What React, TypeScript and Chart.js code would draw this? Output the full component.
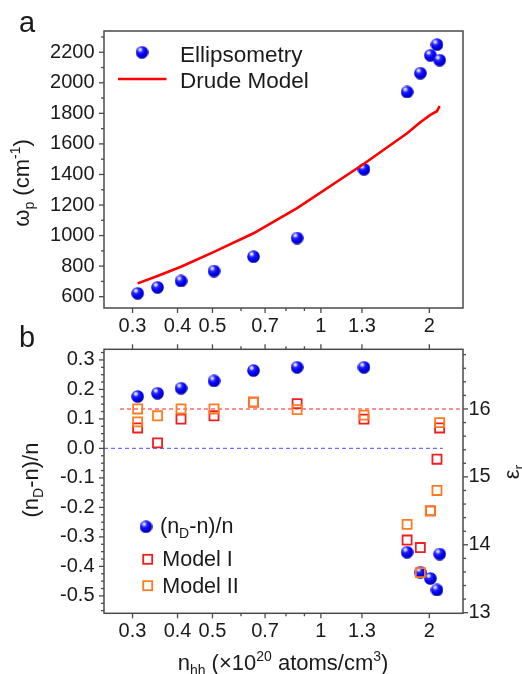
import React, { useEffect, useRef } from 'react';
import { Chart, registerables } from 'chart.js';

Chart.register(...registerables);

// ---------- data ----------
const nhh = [0.310, 0.352, 0.409, 0.505, 0.650, 0.859, 1.317, 1.735, 1.888, 2.013, 2.100, 2.136];
const omegaP = [622, 661, 703, 768, 862, 984, 1434, 1940, 2063, 2180, 2250, 2148];
const drudeModel = [687, 735, 796, 893, 1015, 1180, 1470, 1670, 1742, 1790, 1814, 1848];

const ndRel = [0.176, 0.187, 0.204, 0.229, 0.264, 0.275, 0.275, -0.352, -0.420, -0.441, -0.480, -0.358];

const model1X = [0.310, 0.352, 0.409, 0.505, 0.650, 0.859, 1.317, 1.735, 1.888, 2.013, 2.100, 2.136];
const model1 = [15.72, 15.50, 15.85, 15.90, 16.10, 16.08, 15.85, 14.07, 13.96, 14.50, 15.26, 15.72];

const model2X = [0.310, 0.310, 0.352, 0.409, 0.505, 0.650, 0.859, 1.317, 1.735, 1.888, 2.013, 2.100, 2.136];
const model2 = [16.00, 15.81, 15.90, 16.00, 16.00, 16.10, 15.99, 15.91, 14.30, 13.59, 14.50, 14.80, 15.80];

const zeroLineX = [0.25, 2.18];
const zeroLineY = [0, 0];
const epsLineX = [0.277, 2.43];
const epsLineY = [16, 16];

// ---------- axes / ticks ----------
const xMin = 0.25;
const xMax = 2.48;
const xLabelTicks = [0.3, 0.4, 0.5, 0.7, 1, 1.3, 2];
const xMinorTicks = [0.6, 0.8, 0.9];

const yTopMin = 526;
const yTopMax = 2339;
const yTopMajor = [600, 800, 1000, 1200, 1400, 1600, 1800, 2000, 2200];
const yTopMinor = [700, 900, 1100, 1300, 1500, 1700, 1900, 2100, 2300];

const yBotMin = -0.559;
const yBotMax = 0.336;
const yBotMajor = [-0.5, -0.4, -0.3, -0.2, -0.1, 0, 0.1, 0.2, 0.3];
const yBotMinor: number[] = [];
for (let i = -22; i <= 13; i++) {
  if (i % 4 !== 0) yBotMinor.push(i * 0.025);
}

const y2Min = 12.991;
const y2Max = 16.879;
const y2Major = [13, 14, 15, 16];
const y2Minor: number[] = [];
for (let i = 66; i <= 84; i++) {
  if (i % 5 !== 0) y2Minor.push(i * 0.2);
}

const FONT = '"Liberation Sans", Arial, sans-serif';
const AXIS = '#4a4a4a';
const TEXT = '#1a1a1a';
const BLUE_DASH = '#6f6fff';
const RED_DASH = '#ff6b6b';
const MODEL1 = '#f21d1d';
const MODEL2 = '#ff7b22';

type Side = 'left' | 'right' | 'top' | 'bottom';
interface TickSpec {
  id: string;
  side: Side;
  major: number[];
  minor: number[];
  label?: (v: number) => string;
  gap?: number;
}

function drawAxes(chart: any, specs: TickSpec[]) {
  const ctx: CanvasRenderingContext2D = chart.ctx;
  const a = chart.chartArea;
  ctx.save();
  ctx.strokeStyle = AXIS;
  ctx.lineWidth = 1.5;
  ctx.strokeRect(a.left, a.top, a.right - a.left, a.bottom - a.top);
  for (const spec of specs) {
    const scale = chart.scales[spec.id];
    const line = (v: number, len: number) => {
      const p = scale.getPixelForValue(v);
      ctx.beginPath();
      if (spec.side === 'bottom') { ctx.moveTo(p, a.bottom); ctx.lineTo(p, a.bottom + len); }
      if (spec.side === 'top') { ctx.moveTo(p, a.top); ctx.lineTo(p, a.top - len); }
      if (spec.side === 'left') { ctx.moveTo(a.left, p); ctx.lineTo(a.left - len, p); }
      if (spec.side === 'right') { ctx.moveTo(a.right, p); ctx.lineTo(a.right + len, p); }
      ctx.stroke();
    };
    ctx.lineWidth = 1.3;
    spec.major.forEach((v) => line(v, 5));
    spec.minor.forEach((v) => line(v, 3));
    if (spec.label) {
      ctx.fillStyle = TEXT;
      ctx.font = `20px ${FONT}`;
      ctx.textBaseline = 'middle';
      const gap = spec.gap ?? 10;
      spec.major.forEach((v) => {
        const p = scale.getPixelForValue(v);
        const t = spec.label!(v);
        if (spec.side === 'bottom') { ctx.textAlign = 'center'; ctx.fillText(t, p, a.bottom + gap); }
        if (spec.side === 'left') { ctx.textAlign = 'right'; ctx.fillText(t, a.left - gap, p); }
        if (spec.side === 'right') { ctx.textAlign = 'left'; ctx.fillText(t, a.right + gap, p); }
      });
    }
  }
  ctx.restore();
}

interface Seg { t: string; s: number; dy?: number }

function drawRich(ctx: CanvasRenderingContext2D, segs: Seg[], x: number, y: number, angle: number, align: 'center' | 'left' = 'center') {
  ctx.save();
  ctx.translate(x, y);
  ctx.rotate(angle);
  ctx.textBaseline = 'alphabetic';
  ctx.textAlign = 'left';
  ctx.fillStyle = TEXT;
  let w = 0;
  for (const s of segs) { ctx.font = `${s.s}px ${FONT}`; w += ctx.measureText(s.t).width; }
  let cx = align === 'center' ? -w / 2 : 0;
  for (const s of segs) {
    ctx.font = `${s.s}px ${FONT}`;
    ctx.fillText(s.t, cx, s.dy ?? 0);
    cx += ctx.measureText(s.t).width;
  }
  ctx.restore();
}

function makeSphere(d: number): HTMLCanvasElement {
  const c = document.createElement('canvas');
  c.width = d;
  c.height = d;
  const g = c.getContext('2d')!;
  const r = d / 2;
  const hx = r * 0.72, hy = r * 0.6;
  const grad = g.createRadialGradient(hx, hy, 0, hx, hy, r * 1.45);
  grad.addColorStop(0, '#ffffff');
  grad.addColorStop(0.12, '#c8c8ff');
  grad.addColorStop(0.3, '#2a2aff');
  grad.addColorStop(0.6, '#0000f0');
  grad.addColorStop(0.85, '#0000c8');
  grad.addColorStop(1, '#00008c');
  g.fillStyle = grad;
  g.beginPath();
  g.arc(r, r, r - 0.2, 0, Math.PI * 2);
  g.fill();
  return c;
}

function drawSquare(ctx: CanvasRenderingContext2D, x: number, y: number, color: string) {
  ctx.save();
  ctx.strokeStyle = color;
  ctx.lineWidth = 1.8;
  ctx.strokeRect(x - 4.5, y - 4.5, 9, 9);
  ctx.restore();
}

export default function App() {
  const refA = useRef<HTMLCanvasElement>(null);
  const refB = useRef<HTMLCanvasElement>(null);

  useEffect(() => {
    const sphere = makeSphere(13);

    const chartA = new Chart(refA.current!, {
      type: 'scatter',
      data: {
        datasets: [
          {
            label: 'Drude Model',
            data: nhh.map((x, i) => ({ x, y: drudeModel[i] })),
            showLine: true,
            borderColor: '#ff0000',
            borderWidth: 2.6,
            pointRadius: 0,
            tension: 0,
            order: 1,
          },
          {
            label: 'Ellipsometry',
            data: nhh.map((x, i) => ({ x, y: omegaP[i] })),
            pointStyle: sphere as any,
            pointRadius: 6.5,
            order: 2,
          },
        ],
      },
      options: {
        responsive: false,
        animation: false,
        devicePixelRatio: 1,
        events: [],
        layout: { padding: { top: 31, right: 59, left: 0, bottom: 0 } },
        plugins: { legend: { display: false }, tooltip: { enabled: false } },
        scales: {
          x: {
            type: 'logarithmic',
            min: xMin,
            max: xMax,
            ticks: { display: false },
            grid: { display: false },
            border: { display: false },
            afterFit: (s: any) => { s.height = 37; },
          },
          y: {
            type: 'linear',
            min: yTopMin,
            max: yTopMax,
            ticks: { display: false },
            grid: { display: false },
            border: { display: false },
            afterFit: (s: any) => { s.width = 104; },
          },
        },
      },
      plugins: [
        {
          id: 'decoA',
          afterDraw(chart: any) {
            const ctx: CanvasRenderingContext2D = chart.ctx;
            drawAxes(chart, [
              { id: 'x', side: 'bottom', major: xLabelTicks, minor: xMinorTicks, label: (v) => String(v), gap: 18 },
              { id: 'y', side: 'left', major: yTopMajor, minor: yTopMinor, label: (v) => String(v), gap: 9.5 },
            ]);
            // panel letter
            ctx.save();
            ctx.fillStyle = TEXT;
            ctx.font = `29px ${FONT}`;
            ctx.textAlign = 'left';
            ctx.textBaseline = 'alphabetic';
            ctx.fillText('a', 19, 31.5);
            ctx.restore();
            // y title
            drawRich(ctx, [
              { t: 'ω', s: 22 },
              { t: 'p', s: 14, dy: 5 },
              { t: ' (cm', s: 22 },
              { t: '-1', s: 14, dy: -9 },
              { t: ')', s: 22 },
            ], 28.5, 183, -Math.PI / 2);
            // legend
            ctx.drawImage(sphere, 142 - 6.5, 52.3 - 6.5);
            ctx.save();
            ctx.strokeStyle = '#ff0000';
            ctx.lineWidth = 2.6;
            ctx.beginPath();
            ctx.moveTo(118, 79);
            ctx.lineTo(166.5, 79);
            ctx.stroke();
            ctx.restore();
            drawRich(ctx, [{ t: 'Ellipsometry', s: 22.5 }], 180, 62.3, 0, 'left');
            drawRich(ctx, [{ t: 'Drude Model', s: 22.5 }], 180, 87.7, 0, 'left');
          },
        },
      ],
    } as any);

    const OFF = 315;
    const chartB = new Chart(refB.current!, {
      type: 'scatter',
      data: {
        datasets: [
          {
            label: 'zero',
            data: zeroLineX.map((x, i) => ({ x, y: zeroLineY[i] })),
            showLine: true,
            borderColor: BLUE_DASH,
            borderWidth: 1.3,
            borderDash: [4, 3],
            pointRadius: 0,
            yAxisID: 'y',
            order: 5,
          },
          {
            label: 'eps16',
            data: epsLineX.map((x, i) => ({ x, y: epsLineY[i] })),
            showLine: true,
            borderColor: RED_DASH,
            borderWidth: 1.3,
            borderDash: [4, 3],
            pointRadius: 0,
            yAxisID: 'y2',
            order: 4,
          },
          {
            label: '(nD-n)/n',
            data: nhh.map((x, i) => ({ x, y: ndRel[i] })),
            pointStyle: sphere as any,
            pointRadius: 6.5,
            yAxisID: 'y',
            order: 3,
          },
          {
            label: 'Model I',
            data: model1X.map((x, i) => ({ x, y: model1[i] })),
            pointStyle: 'rect',
            pointRadius: 6.4,
            borderColor: MODEL1,
            backgroundColor: 'rgba(0,0,0,0)',
            borderWidth: 1.8,
            yAxisID: 'y2',
            order: 2,
          },
          {
            label: 'Model II',
            data: model2X.map((x, i) => ({ x, y: model2[i] })),
            pointStyle: 'rect',
            pointRadius: 6.4,
            borderColor: MODEL2,
            backgroundColor: 'rgba(0,0,0,0)',
            borderWidth: 1.8,
            yAxisID: 'y2',
            order: 1,
          },
        ],
      },
      options: {
        responsive: false,
        animation: false,
        devicePixelRatio: 1,
        events: [],
        layout: { padding: { top: 34.3, right: 0, left: 0, bottom: 0 } },
        plugins: { legend: { display: false }, tooltip: { enabled: false } },
        scales: {
          x: {
            type: 'logarithmic',
            min: xMin,
            max: xMax,
            ticks: { display: false },
            grid: { display: false },
            border: { display: false },
            afterFit: (s: any) => { s.height = 60.7; },
          },
          y: {
            type: 'linear',
            position: 'left',
            min: yBotMin,
            max: yBotMax,
            ticks: { display: false },
            grid: { display: false },
            border: { display: false },
            afterFit: (s: any) => { s.width = 104; },
          },
          y2: {
            type: 'linear',
            position: 'right',
            min: y2Min,
            max: y2Max,
            ticks: { display: false },
            grid: { display: false },
            border: { display: false },
            afterFit: (s: any) => { s.width = 59; },
          },
        },
      },
      plugins: [
        {
          id: 'decoB',
          afterDraw(chart: any) {
            const ctx: CanvasRenderingContext2D = chart.ctx;
            drawAxes(chart, [
              { id: 'x', side: 'bottom', major: xLabelTicks, minor: xMinorTicks, label: (v) => String(v), gap: 18.4 },
              { id: 'x', side: 'top', major: xLabelTicks, minor: xMinorTicks },
              { id: 'y', side: 'left', major: yBotMajor, minor: yBotMinor, label: (v) => v.toFixed(1), gap: 9.5 },
              { id: 'y2', side: 'right', major: y2Major, minor: y2Minor, label: (v) => String(v), gap: 5.5 },
            ]);
            ctx.save();
            ctx.fillStyle = TEXT;
            ctx.font = `29px ${FONT}`;
            ctx.textAlign = 'left';
            ctx.textBaseline = 'alphabetic';
            ctx.fillText('b', 19, 346.5 - OFF);
            ctx.restore();
            // left title
            drawRich(ctx, [
              { t: '(n', s: 22 },
              { t: 'D', s: 14, dy: 5 },
              { t: '-n)/n', s: 22 },
            ], 38, 480 - OFF, -Math.PI / 2);
            // right title
            drawRich(ctx, [
              { t: 'ε', s: 22 },
              { t: 'r', s: 14, dy: 5 },
            ], 518.5, 472 - OFF, -Math.PI / 2);
            // x title
            drawRich(ctx, [
              { t: 'n', s: 22 },
              { t: 'hh', s: 14, dy: 5 },
              { t: ' (×10', s: 22 },
              { t: '20', s: 14, dy: -9 },
              { t: ' atoms/cm', s: 22 },
              { t: '3', s: 14, dy: -9 },
              { t: ')', s: 22 },
            ], 283, 670 - OFF, 0);
            // legend
            ctx.drawImage(sphere, 146 - 6.5, 526.7 - OFF - 6.5);
            drawSquare(ctx, 147.7, 559.3 - OFF, MODEL1);
            drawSquare(ctx, 147.7, 585.7 - OFF, MODEL2);
            drawRich(ctx, [
              { t: '(n', s: 21.5 },
              { t: 'D', s: 14, dy: 5 },
              { t: '-n)/n', s: 21.5 },
            ], 160, 533.3 - OFF, 0, 'left');
            drawRich(ctx, [{ t: 'Model I', s: 21.5 }], 162.3, 566 - OFF, 0, 'left');
            drawRich(ctx, [{ t: 'Model II', s: 21.5 }], 162.3, 592.7 - OFF, 0, 'left');
          },
        },
      ],
    } as any);

    return () => {
      chartA.destroy();
      chartB.destroy();
    };
  }, []);

  return (
    <div style={{ position: 'absolute', left: 0, top: 0, width: 522, height: 674, background: '#ffffff' }}>
      <canvas ref={refA} width={522} height={345} style={{ position: 'absolute', left: 0, top: 0 }} />
      <canvas ref={refB} width={522} height={359} style={{ position: 'absolute', left: 0, top: 315 }} />
    </div>
  );
}
